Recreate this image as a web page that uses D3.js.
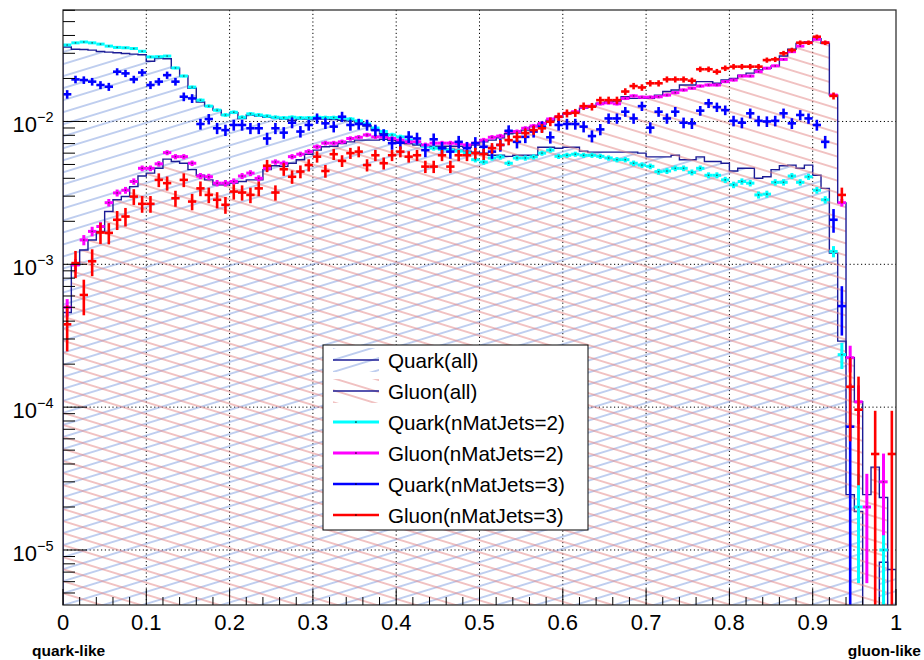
<!DOCTYPE html>
<html>
<head>
<meta charset="utf-8">
<script src="https://cdn.jsdelivr.net/npm/d3@7"></script>
<style>
body { margin: 0; background: #fff; }
svg { display: block; }
text { font-family: "Liberation Sans", Arial, Helvetica, sans-serif; fill: #000; }
</style>
</head>
<body>
<script>
// data: 100 bins of width 0.01, each histogram normalised to unit area
var nBins = 100;

var quarkAll = [
	3.32e-2, 3.2e-2, 3.19e-2, 3.16e-2, 3.09e-2, 3.06e-2, 3.03e-2, 2.99e-2, 2.96e-2, 2.93e-2,
	2.64e-2, 2.78e-2, 2.75e-2, 2.36e-2, 2.08e-2, 1.71e-2, 1.37e-2, 1.28e-2, 1.2e-2, 1.11e-2,
	1.15e-2, 1.05e-2, 1.11e-2, 1.09e-2, 1.07e-2, 1.06e-2, 1.04e-2, 1.02e-2, 1.04e-2, 1.04e-2,
	1.06e-2, 1.04e-2, 1.03e-2, 1.02e-2, 1.01e-2, 9.9e-3, 9.3e-3, 8.7e-3, 8.2e-3, 7.4e-3,
	7.2e-3, 7.0e-3, 6.85e-3, 6.7e-3, 6.6e-3, 6.5e-3, 6.4e-3, 6.3e-3, 6.2e-3, 6.1e-3,
	6.0e-3, 5.8e-3, 5.8e-3, 5.7e-3, 5.8e-3, 5.8e-3, 5.8e-3, 6.6e-3, 6.6e-3, 6.5e-3,
	6.6e-3, 6.6e-3, 6.2e-3, 6.1e-3, 6.1e-3, 6.1e-3, 6.1e-3, 6.1e-3, 6.1e-3, 6.0e-3,
	5.65e-3, 5.65e-3, 5.65e-3, 5.8e-3, 5.4e-3, 5.4e-3, 5.65e-3, 5.25e-3, 5.25e-3, 5.1e-3,
	4.5e-3, 4.7e-3, 4.7e-3, 4.0e-3, 4.1e-3, 4.6e-3, 4.9e-3, 4.95e-3, 4.7e-3, 4.95e-3,
	4.2e-3, 3.4e-3, 1.2e-3, 2.9e-4, 2.44e-5, 1.86e-5, 0, 0, 8.2e-6, 7.3e-6
];

var gluonAll = [
	4.6e-4, 9.9e-4, 1.26e-3, 1.48e-3, 1.7e-3, 2.34e-3, 2.83e-3, 2.98e-3, 3.5e-3, 4.15e-3,
	4.35e-3, 4.7e-3, 5.45e-3, 5.25e-3, 5.1e-3, 4.6e-3, 4.2e-3, 3.9e-3, 3.6e-3, 3.6e-3,
	3.7e-3, 3.8e-3, 3.9e-3, 3.9e-3, 4.6e-3, 4.9e-3, 4.85e-3, 5.1e-3, 5.4e-3, 5.9e-3,
	6.3e-3, 6.65e-3, 6.7e-3, 7.0e-3, 7.2e-3, 7.4e-3, 7.4e-3, 7.4e-3, 7.5e-3, 7.4e-3,
	7.1e-3, 7.0e-3, 7.0e-3, 6.7e-3, 6.7e-3, 6.7e-3, 6.7e-3, 6.7e-3, 6.6e-3, 6.85e-3,
	7.2e-3, 7.4e-3, 7.7e-3, 8.2e-3, 8.3e-3, 8.7e-3, 9.2e-3, 9.6e-3, 1.02e-2, 1.07e-2,
	1.13e-2, 1.16e-2, 1.24e-2, 1.28e-2, 1.34e-2, 1.37e-2, 1.39e-2, 1.49e-2, 1.45e-2, 1.45e-2,
	1.45e-2, 1.53e-2, 1.62e-2, 1.66e-2, 1.8e-2, 1.8e-2, 1.9e-2, 1.9e-2, 1.85e-2, 1.95e-2,
	2.0e-2, 2.11e-2, 2.18e-2, 2.29e-2, 2.36e-2, 2.45e-2, 2.87e-2, 3.2e-2, 3.52e-2, 3.62e-2,
	3.8e-2, 3.52e-2, 1.53e-2, 2.69e-3, 2.22e-4, 1.09e-4, 2.44e-5, 3.8e-5, 2.33e-5, 0
];

var quark2 = [
	3.43e-2, 3.55e-2, 3.6e-2, 3.55e-2, 3.48e-2, 3.37e-2, 3.3e-2, 3.28e-2, 3.24e-2, 3.1e-2,
	2.83e-2, 2.84e-2, 2.87e-2, 2.37e-2, 2.08e-2, 1.74e-2, 1.41e-2, 1.28e-2, 1.2e-2, 1.11e-2,
	1.16e-2, 1.07e-2, 1.13e-2, 1.11e-2, 1.09e-2, 1.07e-2, 1.06e-2, 1.07e-2, 1.06e-2, 1.06e-2,
	1.07e-2, 1.065e-2, 1.065e-2, 1.06e-2, 1.04e-2, 1.01e-2, 9.6e-3, 9.0e-3, 8.5e-3, 8.05e-3,
	7.8e-3, 7.4e-3, 7.1e-3, 6.7e-3, 6.5e-3, 6.4e-3, 6.3e-3, 6.2e-3, 6.0e-3, 5.4e-3,
	5.2e-3, 5.55e-3, 5.65e-3, 5.1e-3, 5.55e-3, 5.55e-3, 5.65e-3, 6.0e-3, 6.3e-3, 5.7e-3,
	5.8e-3, 5.9e-3, 5.8e-3, 5.8e-3, 5.7e-3, 5.55e-3, 5.4e-3, 5.4e-3, 5.1e-3, 4.95e-3,
	4.85e-3, 4.45e-3, 4.5e-3, 4.7e-3, 4.7e-3, 4.4e-3, 4.7e-3, 4.2e-3, 4.2e-3, 3.9e-3,
	3.6e-3, 3.8e-3, 3.7e-3, 3.06e-3, 3.1e-3, 3.75e-3, 3.75e-3, 4.15e-3, 3.75e-3, 4.1e-3,
	3.3e-3, 2.83e-3, 1.23e-3, 2.33e-4, 0, 2.0e-5, 0, 0, 1.0e-5, 0
];

var gluon2 = [
	5.0e-4, 9.9e-4, 1.48e-3, 1.7e-3, 1.84e-3, 2.7e-3, 3.16e-3, 3.3e-3, 3.8e-3, 4.7e-3,
	4.7e-3, 5.05e-3, 6.05e-3, 5.67e-3, 5.67e-3, 5.1e-3, 4.15e-3, 4.1e-3, 3.7e-3, 3.7e-3,
	3.8e-3, 4.15e-3, 4.35e-3, 4.0e-3, 4.7e-3, 5.2e-3, 5.1e-3, 5.67e-3, 5.9e-3, 6.15e-3,
	6.65e-3, 7.05e-3, 7.05e-3, 7.2e-3, 7.6e-3, 7.75e-3, 8.05e-3, 7.8e-3, 7.8e-3, 7.6e-3,
	7.4e-3, 7.2e-3, 7.2e-3, 6.85e-3, 7.05e-3, 7.05e-3, 7.05e-3, 7.0e-3, 6.85e-3, 7.05e-3,
	7.4e-3, 7.75e-3, 7.9e-3, 8.5e-3, 8.5e-3, 8.96e-3, 9.3e-3, 9.7e-3, 1.04e-2, 1.08e-2,
	1.14e-2, 1.17e-2, 1.26e-2, 1.28e-2, 1.33e-2, 1.35e-2, 1.33e-2, 1.45e-2, 1.51e-2, 1.48e-2,
	1.48e-2, 1.49e-2, 1.53e-2, 1.59e-2, 1.66e-2, 1.71e-2, 1.77e-2, 1.8e-2, 1.8e-2, 1.9e-2,
	1.95e-2, 2.08e-2, 2.08e-2, 2.23e-2, 2.36e-2, 2.45e-2, 2.72e-2, 3.08e-2, 3.37e-2, 3.56e-2,
	3.76e-2, 3.56e-2, 1.53e-2, 2.7e-3, 2.22e-4, 1.09e-4, 2.0e-5, 0, 3.0e-5, 0
];

var quark3 = [
	1.55e-2, 1.97e-2, 1.95e-2, 1.9e-2, 1.8e-2, 1.75e-2, 2.23e-2, 2.17e-2, 1.97e-2, 2.2e-2,
	1.8e-2, 1.9e-2, 2.11e-2, 1.9e-2, 1.49e-2, 1.45e-2, 9.6e-3, 1.04e-2, 8.96e-3, 8.7e-3,
	9.45e-3, 9.45e-3, 8.96e-3, 8.96e-3, 7.6e-3, 8.96e-3, 8.35e-3, 9.8e-3, 8.5e-3, 9.45e-3,
	1.05e-2, 9.7e-3, 9.2e-3, 1.08e-2, 9.45e-3, 9.6e-3, 9.45e-3, 8.7e-3, 8.05e-3, 7.05e-3,
	7.1e-3, 7.8e-3, 7.6e-3, 6.3e-3, 7.5e-3, 6.5e-3, 6.15e-3, 7.2e-3, 6.5e-3, 7.05e-3,
	6.65e-3, 6.15e-3, 6.85e-3, 8.6e-3, 7.2e-3, 7.8e-3, 8.5e-3, 9.2e-3, 7.75e-3, 9.45e-3,
	9.6e-3, 9.6e-3, 9.2e-3, 7.9e-3, 8.8e-3, 1.05e-2, 1.05e-2, 1.17e-2, 1.05e-2, 1.28e-2,
	9.05e-3, 1.17e-2, 1.05e-2, 1.17e-2, 9.8e-3, 9.7e-3, 1.19e-2, 1.34e-2, 1.26e-2, 1.2e-2,
	1.01e-2, 9.8e-3, 1.14e-2, 1.01e-2, 1.0e-2, 1.01e-2, 1.14e-2, 9.7e-3, 1.11e-2, 1.05e-2,
	9.45e-3, 7.2e-3, 2.05e-3, 5.1e-4, 7.3e-5, 0, 0, 0, 0, 0
];

var gluon3 = [
	3.8e-4, 1.02e-3, 6.1e-4, 1.05e-3, 1.67e-3, 1.66e-3, 2.05e-3, 2.16e-3, 2.98e-3, 2.65e-3,
	2.65e-3, 3.9e-3, 3.7e-3, 2.9e-3, 3.9e-3, 2.75e-3, 3.4e-3, 3.06e-3, 2.83e-3, 2.61e-3,
	3.23e-3, 3.18e-3, 3.06e-3, 3.4e-3, 4.9e-3, 3.18e-3, 4.63e-3, 4.1e-3, 4.46e-3, 4.95e-3,
	5.67e-3, 4.5e-3, 5.9e-3, 5.3e-3, 6.0e-3, 6.15e-3, 4.95e-3, 5.8e-3, 5.1e-3, 5.8e-3,
	6.15e-3, 5.67e-3, 5.8e-3, 4.83e-3, 4.83e-3, 5.8e-3, 4.83e-3, 5.8e-3, 5.8e-3, 6.0e-3,
	5.9e-3, 6.5e-3, 6.85e-3, 7.4e-3, 7.8e-3, 8.3e-3, 8.7e-3, 8.96e-3, 9.95e-3, 1.08e-2,
	1.14e-2, 1.15e-2, 1.28e-2, 1.27e-2, 1.41e-2, 1.41e-2, 1.41e-2, 1.62e-2, 1.77e-2, 1.73e-2,
	1.85e-2, 1.85e-2, 1.97e-2, 1.97e-2, 1.97e-2, 1.93e-2, 2.32e-2, 2.32e-2, 2.23e-2, 2.36e-2,
	2.42e-2, 2.42e-2, 2.42e-2, 2.42e-2, 2.69e-2, 2.72e-2, 3.0e-2, 3.16e-2, 3.56e-2, 3.56e-2,
	3.92e-2, 3.56e-2, 1.51e-2, 3.06e-3, 1.39e-4, 9.6e-5, 0, 4.7e-5, 0, 4.7e-5
];

// effective number of entries, only used for the poisson error bars
var entries = { quark2: 100000, gluon2: 100000, quark3: 13700, gluon3: 21000 };

var xTicks = [0, 0.1, 0.2, 0.3, 0.4, 0.5, 0.6, 0.7, 0.8, 0.9, 1];
var xTickLabels = ['0', '0.1', '0.2', '0.3', '0.4', '0.5', '0.6', '0.7', '0.8', '0.9', '1'];
var yDecades = [1e-5, 1e-4, 1e-3, 1e-2];
var yExponents = ['\u22125', '\u22124', '\u22123', '\u22122'];
var legendLabels = ['Quark(all)', 'Gluon(all)', 'Quark(nMatJets=2)', 'Gluon(nMatJets=2)', 'Quark(nMatJets=3)', 'Gluon(nMatJets=3)'];
var xTitleLeft = 'quark-like';
var xTitleRight = 'gluon-like';

// chart
var W = 924, H = 660;
var margin = { top: 10, right: 28, bottom: 55, left: 63 };
var width = W - margin.left - margin.right;
var height = H - margin.top - margin.bottom;

var navy = '#1c1c96';
var colQ2 = '#00ffff', colG2 = '#ff00ff', colQ3 = '#0000ff', colG3 = '#ff0000';

var svg = d3.select('body').append('svg')
	.attr('width', W)
	.attr('height', H);

var defs = svg.append('defs');
defs.append('clipPath').attr('id', 'clip')
	.append('rect')
	.attr('x', 0).attr('y', 0)
	.attr('width', width).attr('height', height);

function hatch (id, color, angle) {
	var p = defs.append('pattern')
		.attr('id', id)
		.attr('patternUnits', 'userSpaceOnUse')
		.attr('width', 40)
		.attr('height', 11.5)
		.attr('patternTransform', 'rotate(' + angle + ')');
	p.append('line')
		.attr('x1', 0).attr('x2', 40)
		.attr('y1', 5.75).attr('y2', 5.75)
		.attr('stroke', color)
		.attr('stroke-width', 1.1);
}
hatch('hatchQ', '#7f9de0', -17);
hatch('hatchG', '#e38585', 17);

var g = svg.append('g')
	.attr('transform', 'translate(' + margin.left + ',' + margin.top + ')');

var x = d3.scaleLinear().domain([0, 1]).range([0, width]);
var y = d3.scaleLog().domain([4.12e-6, 0.0603]).range([height, 0]);
var below = height + 10;

// grid
g.append('g').selectAll('line')
	.data(xTicks.slice(1, -1)).enter()
	.append('line')
	.attr('x1', d => x(d)).attr('x2', d => x(d))
	.attr('y1', 0).attr('y2', height)
	.attr('stroke', '#000').attr('stroke-width', 1)
	.attr('stroke-dasharray', '1.2,2.6');
g.append('g').selectAll('line')
	.data(yDecades).enter()
	.append('line')
	.attr('x1', 0).attr('x2', width)
	.attr('y1', d => y(d)).attr('y2', d => y(d))
	.attr('stroke', '#000').attr('stroke-width', 1)
	.attr('stroke-dasharray', '1.2,2.6');

// histograms (hatched, with step outline)
function stepPoints (vals) {
	var pts = [[x(0), below]];
	vals.forEach(function (v, i) {
		var yy = v > 0 ? y(v) : below;
		pts.push([x(i / nBins), yy]);
		pts.push([x((i + 1) / nBins), yy]);
	});
	pts.push([x(1), below]);
	return pts;
}

function drawHist (vals, pattern) {
	var pts = stepPoints(vals);
	var hg = g.append('g').attr('clip-path', 'url(#clip)');
	hg.append('path')
		.attr('d', d3.line()(pts) + 'Z')
		.attr('fill', 'url(#' + pattern + ')')
		.attr('stroke', 'none');
	hg.append('path')
		.attr('d', d3.line()(pts))
		.attr('fill', 'none')
		.attr('stroke', navy)
		.attr('stroke-width', 1.4);
}
drawHist(quarkAll, 'hatchQ');
drawHist(gluonAll, 'hatchG');

// points with error bars
function drawPoints (vals, color, N, lw, dot) {
	var pts = vals.map((v, i) => ({ i: i, v: v })).filter(d => d.v > 0);
	var pg = g.append('g').attr('clip-path', 'url(#clip)');
	pg.selectAll('.eh').data(pts).enter()
		.append('line')
		.attr('x1', d => x(d.i / nBins)).attr('x2', d => x((d.i + 1) / nBins))
		.attr('y1', d => y(d.v)).attr('y2', d => y(d.v))
		.attr('stroke', color).attr('stroke-width', lw);
	pg.selectAll('.ev').data(pts).enter()
		.append('line')
		.attr('x1', d => x((d.i + 0.5) / nBins)).attr('x2', d => x((d.i + 0.5) / nBins))
		.attr('y1', function (d) {
			var s = Math.sqrt(d.v / N);
			return d.v - s > 0 ? y(d.v - s) : below;
		})
		.attr('y2', d => y(d.v + Math.sqrt(d.v / N)))
		.attr('stroke', color).attr('stroke-width', lw);
	if (dot) {
		pg.selectAll('.dot').data(pts).enter()
			.append('rect')
			.attr('x', d => x((d.i + 0.5) / nBins) - 0.75)
			.attr('y', d => y(d.v) - 0.75)
			.attr('width', 1.5).attr('height', 1.5)
			.attr('fill', dot);
	}
}
drawPoints(quark2, colQ2, entries.quark2, 3, '#207070');
drawPoints(gluon2, colG2, entries.gluon2, 3, '#702070');
drawPoints(quark3, colQ3, entries.quark3, 2.6, null);
drawPoints(gluon3, colG3, entries.gluon3, 2.6, null);

// frame
g.append('rect')
	.attr('x', 0).attr('y', 0)
	.attr('width', width).attr('height', height)
	.attr('fill', 'none')
	.attr('stroke', '#333').attr('stroke-width', 1.3);

// y axis ticks (log, inside)
var yMinor = [];
[1e-6, 1e-5, 1e-4, 1e-3, 1e-2].forEach(function (d) {
	for (var m = 2; m <= 9; m++) {
		var v = m * d;
		if (v >= y.domain()[0] && v <= y.domain()[1]) yMinor.push(v);
	}
});
g.append('g').selectAll('line')
	.data(yMinor).enter()
	.append('line')
	.attr('x1', 0).attr('x2', 12)
	.attr('y1', d => y(d)).attr('y2', d => y(d))
	.attr('stroke', '#000').attr('stroke-width', 1);
g.append('g').selectAll('line')
	.data(yDecades).enter()
	.append('line')
	.attr('x1', 0).attr('x2', 24)
	.attr('y1', d => y(d)).attr('y2', d => y(d))
	.attr('stroke', '#000').attr('stroke-width', 1);

var yLab = g.append('g').selectAll('text')
	.data(yDecades).enter()
	.append('text')
	.attr('x', -9.5)
	.attr('y', d => y(d) + 11)
	.attr('text-anchor', 'end')
	.attr('font-size', 22);
yLab.append('tspan').text('10');
yLab.append('tspan')
	.attr('dy', -10)
	.attr('font-size', 14.5)
	.text((d, i) => yExponents[i]);

// x axis ticks (inside)
var xMinor = d3.range(0, 51).map(k => k / 50).filter((d, k) => k % 5 !== 0);
g.append('g').selectAll('line')
	.data(xMinor).enter()
	.append('line')
	.attr('x1', d => x(d)).attr('x2', d => x(d))
	.attr('y1', height).attr('y2', height - 8)
	.attr('stroke', '#000').attr('stroke-width', 1);
g.append('g').selectAll('line')
	.data(xTicks).enter()
	.append('line')
	.attr('x1', d => x(d)).attr('x2', d => x(d))
	.attr('y1', height).attr('y2', height - 16)
	.attr('stroke', '#000').attr('stroke-width', 1);
g.append('g').selectAll('text')
	.data(xTicks).enter()
	.append('text')
	.attr('x', d => x(d))
	.attr('y', height + 25)
	.attr('text-anchor', 'middle')
	.attr('font-size', 22)
	.text((d, i) => xTickLabels[i]);

// axis titles
svg.append('text')
	.attr('x', 32).attr('y', 656)
	.attr('font-size', 15.5).attr('font-weight', 'bold')
	.text(xTitleLeft);
svg.append('text')
	.attr('x', 921).attr('y', 656)
	.attr('text-anchor', 'end')
	.attr('font-size', 15.5).attr('font-weight', 'bold')
	.text(xTitleRight);

// legend
var leg = svg.append('g').attr('transform', 'translate(323,345)');
leg.append('rect')
	.attr('x', 0).attr('y', 0)
	.attr('width', 265).attr('height', 185)
	.attr('fill', '#fff')
	.attr('stroke', '#000').attr('stroke-width', 1);

var legendStyles = [
	{ hatch: 'hatchQ', color: navy, lw: 1.4 },
	{ hatch: 'hatchG', color: navy, lw: 1.4 },
	{ color: colQ2, lw: 3 },
	{ color: colG2, lw: 3 },
	{ color: colQ3, lw: 2.6 },
	{ color: colG3, lw: 2.6 }
];
legendLabels.forEach(function (lab, i) {
	var cy = 15 + i * 31;
	var st = legendStyles[i];
	var row = leg.append('g');
	if (st.hatch) {
		row.append('rect')
			.attr('x', 10).attr('y', cy - 12)
			.attr('width', 46).attr('height', 24)
			.attr('fill', 'url(#' + st.hatch + ')');
	}
	row.append('line')
		.attr('x1', 10).attr('x2', 56)
		.attr('y1', cy).attr('y2', cy)
		.attr('stroke', st.color).attr('stroke-width', st.lw);
	if (!st.hatch) {
		row.append('rect')
			.attr('x', 32.3).attr('y', cy - 0.6)
			.attr('width', 1.3).attr('height', 1.3)
			.attr('fill', '#000');
	}
	row.append('text')
		.attr('x', 65).attr('y', cy + 7.5)
		.attr('font-size', 20.6)
		.text(lab);
});
</script>
</body>
</html>
